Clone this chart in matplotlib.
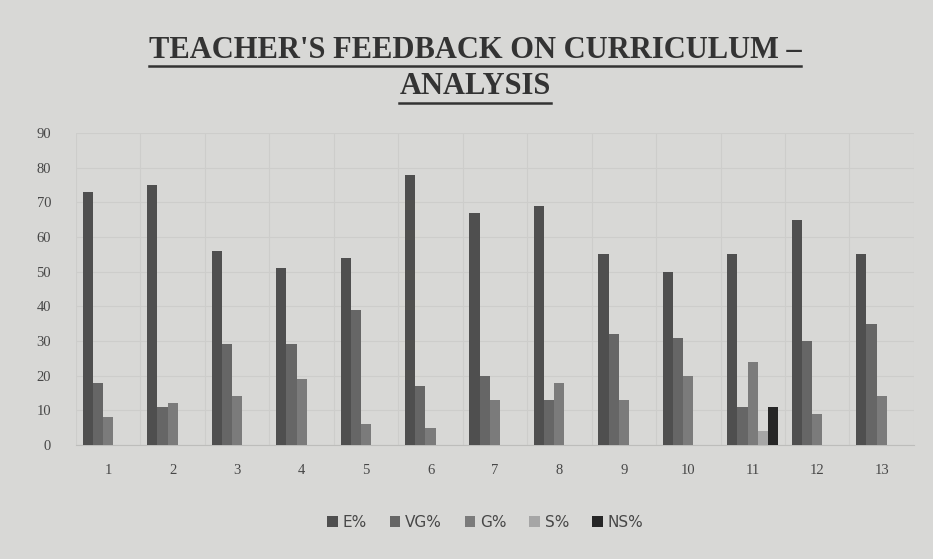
import matplotlib.pyplot as plt
import numpy as np

categories = [str(i) for i in range(1, 14)]
e_pct = [73, 75, 56, 51, 54, 78, 67, 69, 55, 50, 55, 65, 55]
vg_pct = [18, 11, 29, 29, 39, 17, 20, 13, 32, 31, 11, 30, 35]
g_pct = [8, 12, 14, 19, 6, 5, 13, 18, 13, 20, 24, 9, 14]
s_pct = [0, 0, 0, 0, 0, 0, 0, 0, 0, 0, 4, 0, 0]
ns_pct = [0, 0, 0, 0, 0, 0, 0, 0, 0, 0, 11, 0, 0]

series = [("E%", e_pct), ("VG%", vg_pct), ("G%", g_pct), ("S%", s_pct), ("NS%", ns_pct)]
colors = ["#4f4f4f", "#666666", "#7b7b7b", "#a6a6a6", "#262626"]
bg = "#d8d8d6"

fig = plt.figure(figsize=(9.33, 5.59), dpi=100, facecolor=bg)
ax = fig.add_axes([0.0815, 0.204, 0.898, 0.558], facecolor=bg)

x = np.arange(len(categories))
width = 0.158
for i, ((name, vals), col) in enumerate(zip(series, colors)):
    offset = x + (i - 2) * width
    ax.bar(offset, vals, width, color=col, label=name, zorder=3)

ax.set_xlim(-0.5, len(categories) - 0.5)
ax.set_ylim(0, 90)
ax.set_yticks(range(0, 91, 10))
ax.set_xticks(x)
ax.set_xticklabels(categories)
ax.set_xticks(np.arange(-0.5, len(categories), 1), minor=True)
ax.tick_params(which="both", length=0, labelsize=10.5, colors="#474747", pad=14)
ax.tick_params(axis="y", pad=18)
for lab in ax.get_xticklabels() + ax.get_yticklabels():
    lab.set_family("Liberation Serif")

ax.grid(axis="y", color="#cdcdcb", linewidth=0.8, zorder=0)
ax.grid(axis="x", which="minor", color="#cdcdcb", linewidth=0.8, zorder=0)
ax.grid(axis="x", which="major", visible=False)
for side in ["top", "right", "left"]:
    ax.spines[side].set_visible(False)
ax.spines["bottom"].set_color("#bdbdbb")

leg = fig.legend(loc="center", bbox_to_anchor=(0.52, 0.066), ncol=5, frameon=False,
                 fontsize=11, handlelength=0.7, handleheight=0.7, handletextpad=0.3,
                 columnspacing=1.5)
for t in leg.get_texts():
    t.set_color("#474747")

t1 = fig.text(0.509, 0.91, "TEACHER'S FEEDBACK ON CURRICULUM –", ha="center", va="center",
              fontsize=22, fontweight="bold", family="Liberation Serif", color="#333333")
t2 = fig.text(0.509, 0.845, "ANALYSIS", ha="center", va="center",
              fontsize=22, fontweight="bold", family="Liberation Serif", color="#333333")

# underline the title lines
fig.canvas.draw()
r = fig.canvas.get_renderer()
for t in (t1, t2):
    bb = t.get_window_extent(r).transformed(fig.transFigure.inverted())
    y = bb.y0 - 0.003
    fig.add_artist(plt.Line2D([bb.x0, bb.x1], [y, y], transform=fig.transFigure,
                              color="#333333", linewidth=1.8))

fig.savefig("out.png", dpi=100, facecolor=bg)
